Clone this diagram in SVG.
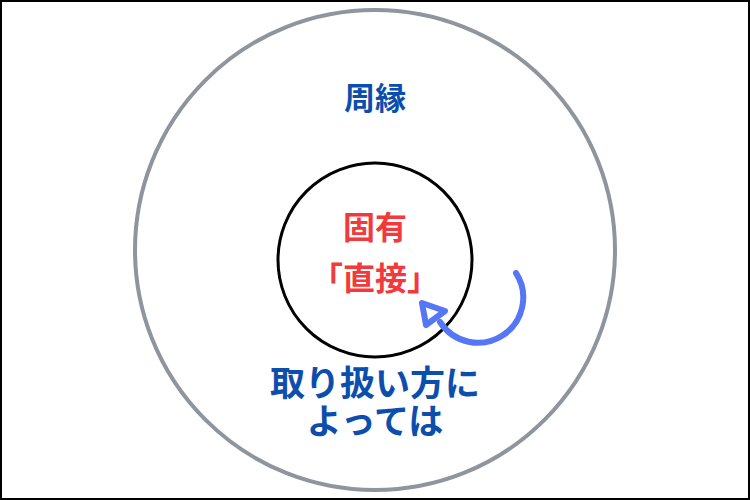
<svg xmlns="http://www.w3.org/2000/svg" width="750" height="500" viewBox="0 0 750 500">
<style>
.t{font-family:"Noto Sans CJK JP","Noto Sans",sans-serif;font-weight:bold;text-anchor:middle}
.blue{fill:#0B4EAD}
.red{fill:#F23A3C}
</style>
<rect x="1" y="1" width="748" height="498" fill="#fff" stroke="#000" stroke-width="2"/>
<g id="outer">
<circle cx="375" cy="250" r="240" fill="none" stroke="#8F959E" stroke-width="4"/>
<text class="t blue" x="375" y="109" font-size="31">周縁</text>
<text class="t blue" x="375" y="396" font-size="35">取り扱い方に</text>
<text class="t blue" x="375" y="434" font-size="35">よっては</text>
</g>
<g id="inner">
<circle cx="375" cy="260" r="97" fill="none" stroke="#000" stroke-width="3"/>
<text class="t red" x="375" y="239" font-size="32">固有</text>
<text class="t red" x="375" y="290" font-size="32">「直接」</text>
</g>
<g id="connectors" fill="none" stroke="#5577F6" stroke-width="6" stroke-linejoin="round" stroke-linecap="round">
<path d="M516 273 A42 42 0 0 1 440 322"/>
<polygon points="422,303 445,311 426,325"/>
</g>
</svg>
